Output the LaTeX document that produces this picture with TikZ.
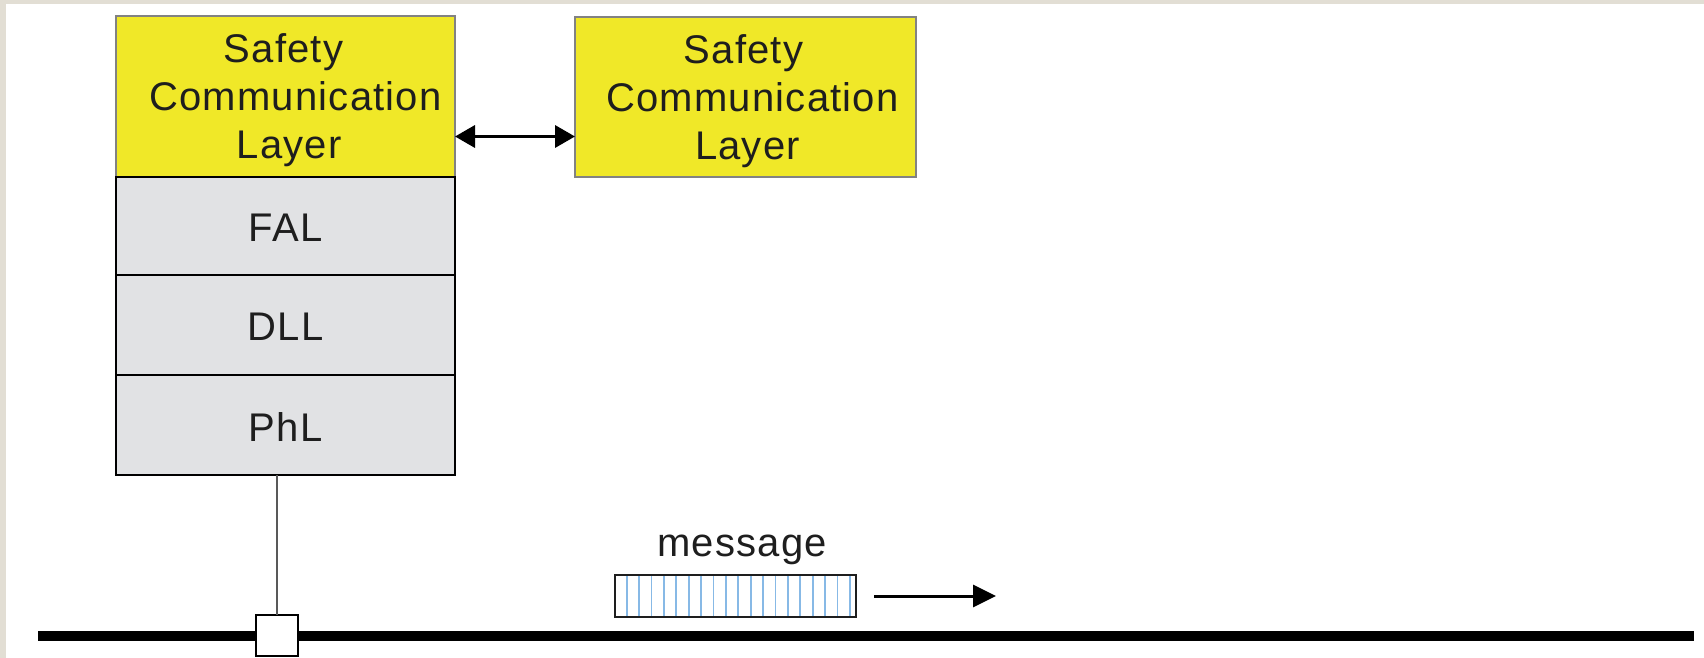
\documentclass[tikz,border=0pt]{standalone}
\usepackage{fontspec}
\setmainfont[LetterSpace=3]{Liberation Sans}
\usetikzlibrary{arrows.meta}

\definecolor{frame}{RGB}{226,222,212}
\definecolor{sclyellow}{RGB}{240,232,40}
\definecolor{layergray}{RGB}{225,226,228}
\definecolor{ink}{RGB}{30,30,30}
\definecolor{stripeblue}{RGB}{135,185,230}
\definecolor{boxedge}{RGB}{130,130,130}

% shift a centred line sideways by half of #1 (positive = right)
\newcommand{\linenudge}[2]{\hspace*{#1}#2}

\tikzset{
  lbl/.style={font=\fontsize{40}{48}\selectfont, text=ink, align=center, inner sep=0pt},
  yellowbox/.style={draw=boxedge, fill=sclyellow, line width=1.5pt,
    minimum width=339, minimum height=161, inner sep=0pt, outer sep=0pt, anchor=north west},
  layerbox/.style={draw=black, fill=layergray, line width=1.5pt,
    minimum width=339, inner sep=0pt, outer sep=0pt, anchor=north west},
  peerarrow/.style={line width=3.5pt, {Triangle[length=20pt,width=22pt]}-{Triangle[length=20pt,width=22pt]}},
  flowarrow/.style={line width=3pt, -{Triangle[length=23pt,width=22pt]}},
  busline/.style={line width=10pt, black},
  stub/.style={line width=1.5pt, gray!70!black},
  tapbox/.style={draw=black, fill=white, line width=2pt, minimum width=42, minimum height=41,
    inner sep=0pt, outer sep=0pt},
  stripe/.style={stripeblue, line width=1.8pt},
  msgbox/.style={draw=ink, fill=white, line width=1.8pt, minimum width=241, minimum height=42,
    inner sep=0pt, outer sep=0pt, anchor=north west,
    path picture={
      \foreach \i in {0,...,18}
        \draw[stripe] ([xshift=11.7pt+\i*12.4pt]path picture bounding box.north west)
                   -- ([xshift=11.7pt+\i*12.4pt]path picture bounding box.south west);
    }},
}

\begin{document}
\begin{tikzpicture}[x=1pt, y=-1pt]
  % page and frame
  \fill[frame] (0,0) rectangle (1704,658);
  \fill[white] (6,4) rectangle (1704,658);
  \useasboundingbox (0,0) rectangle (1704,658);

  % left protocol stack
  \node[yellowbox] (scl) at (116,16) {};
  \node[layerbox, minimum height=98]  (fal) at (116,177) {};
  \node[layerbox, minimum height=100] (dll) at (116,275) {};
  \node[layerbox, minimum height=100] (phl) at (116,375) {};
  \node[lbl] (scltext) at ([yshift=-4pt]scl.center)
    {\linenudge{-4pt}{Safety}\\\linenudge{20pt}{Communication}\\\linenudge{7pt}{Layer}};
  \node[lbl] (faltext) at ([yshift=-2pt]fal.center) {FAL};
  \node[lbl] (dlltext) at ([yshift=-2pt]dll.center) {DLL};
  \node[lbl] (phltext) at ([yshift=-2pt]phl.center) {PhL};

  % peer safety layer
  \node[yellowbox, minimum width=341, minimum height=160] (scr) at (575,17) {};
  \node[lbl] (scrtext) at ([yshift=-4pt]scr.center)
    {\linenudge{-4pt}{Safety}\\\linenudge{14pt}{Communication}\\\linenudge{4pt}{Layer}};

  % logical link between the safety layers
  \draw[peerarrow] ([yshift=-40pt]scl.east) -- ([yshift=-40pt]scl.east -| scr.west);

  % bus and tap
  \coordinate (busL) at (38,635.5);
  \coordinate (busR) at (1694,635.5);
  \draw[busline] (busL) -- (busR);
  \node[tapbox] (tap) at (277,635.5) {};
  \draw[stub] (tap.north |- phl.south) -- (tap.north);

  % message on the bus
  \node[msgbox] (msg) at (615,575) {};
  \node[lbl, anchor=base] (msglbl) at (742,556) {message};
  \coordinate (msgtip) at (996,596);
  \draw[flowarrow] ([xshift=18pt]msg.east) -- (msgtip);
\end{tikzpicture}
\end{document}
